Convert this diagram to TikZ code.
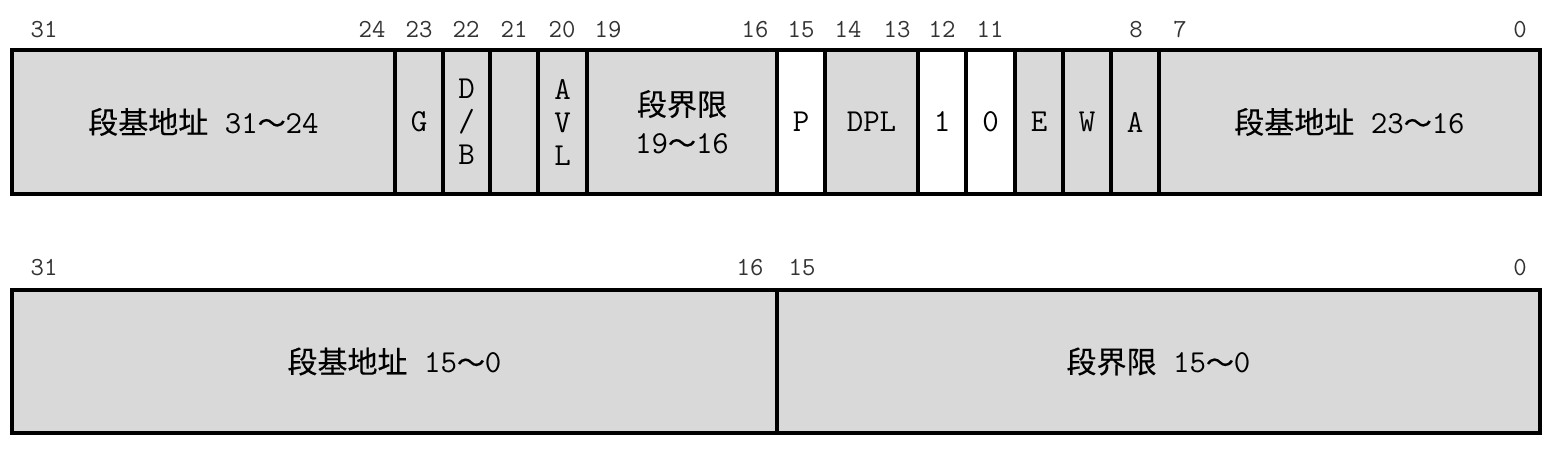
\documentclass[tikz,border=0pt]{standalone}
\usepackage{fontspec}
\newfontfamily\monofont{Latin Modern Mono}
\newfontfamily\cjkfont[FakeBold=0.3]{Noto Sans CJK SC}
\newcommand{\upto}[2]{#1{\cjkfont\fontsize{28}{33}\selectfont 〜}#2}
\newcommand{\cjktext}[1]{{\cjkfont\fontsize{30}{33}\selectfont #1}}
\definecolor{fieldgray}{HTML}{D9D9D9}
\tikzset{
  field/.style={draw, line width=4pt, fill=fieldgray, inner sep=0pt,
    minimum height=144pt, align=center, font=\monofont\fontsize{32}{33}\selectfont},
  flag/.style={field, fill=white},
  bitno/.style={inner sep=0pt, anchor=base, text=black!80, font=\monofont\fontsize{26}{26}\selectfont},
}
\begin{document}
\begin{tikzpicture}[x=1pt,y=-1pt]
    \useasboundingbox (0,0) rectangle (1553,448);

    % High double word
    \node[field, minimum width=383pt] (hibase) at (203.5,122) {\cjktext{段基地址} \upto{31}{24}};
    \node[field, minimum width=48pt] (g) at (419,122) {G};
    \node[field, minimum width=47pt] (db) at (466.5,122) {D\\/\\B};
    \node[field, minimum width=48pt] (bit21) at (514,122) {};
    \node[field, minimum width=49pt] (avl) at (562.5,122) {A\\V\\L};
    \node[field, minimum width=190pt] (hilimit) at (682,122) {\cjktext{段界限}\\[5pt]\upto{19}{16}};
    \node[flag, minimum width=48pt] (p) at (801,122) {P};
    \node[field, minimum width=93pt] (dpl) at (871.5,122) {DPL};
    \node[flag, minimum width=48pt] (bit12) at (942,122) {1};
    \node[flag, minimum width=49pt] (bit11) at (990.5,122) {0};
    \node[field, minimum width=48pt] (e) at (1039,122) {E};
    \node[field, minimum width=48pt] (w) at (1087,122) {W};
    \node[field, minimum width=48pt] (a) at (1135,122) {A};
    \node[field, minimum width=381pt] (midbase) at (1349.5,122) {\cjktext{段基地址} \upto{23}{16}};

    % Bit numbers, high double word
    \node[bitno] (t31) at (44,37) {31};
    \node[bitno] (t24) at (372,37) {24};
    \node[bitno] (t23) at (419,37) {23};
    \node[bitno] (t22) at (466,37) {22};
    \node[bitno] (t21) at (514,37) {21};
    \node[bitno] (t20) at (562,37) {20};
    \node[bitno] (t19) at (608,37) {19};
    \node[bitno] (t16) at (755,37) {16};
    \node[bitno] (t15) at (801,37) {15};
    \node[bitno] (t14) at (848,37) {14};
    \node[bitno] (t13) at (897,37) {13};
    \node[bitno] (t12) at (942,37) {12};
    \node[bitno] (t11) at (990,37) {11};
    \node[bitno] (t8) at (1136,37) {8};
    \node[bitno] (t7) at (1180,37) {7};
    \node[bitno] (t0) at (1520,37) {0};

    % Low double word
    \node[field, minimum width=765pt, minimum height=143pt] (lobase) at (394.5,361.5) {\cjktext{段基地址} \upto{15}{0}};
    \node[field, minimum width=763pt, minimum height=143pt] (lolimit) at (1158.5,361.5) {\cjktext{段界限} \upto{15}{0}};

    % Bit numbers, low double word
    \node[bitno] (b31) at (44,275) {31};
    \node[bitno] (b16) at (750,275) {16};
    \node[bitno] (b15) at (802,275) {15};
    \node[bitno] (b0) at (1520,275) {0};
\end{tikzpicture}
\end{document}
